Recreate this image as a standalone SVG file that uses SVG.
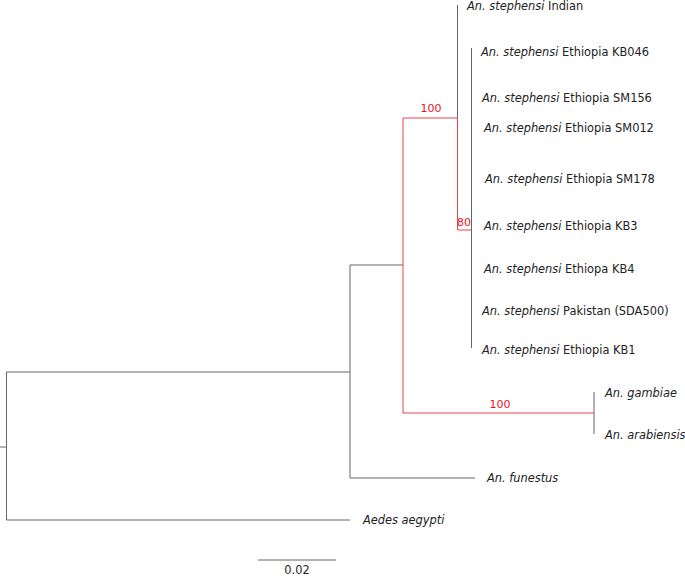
<svg xmlns="http://www.w3.org/2000/svg" width="685" height="577" viewBox="0 0 685 577">
<style>
.g{stroke:#666;stroke-width:1;fill:none}
.r{stroke:#e8454a;stroke-width:1;fill:none}
text{font-family:"DejaVu Sans",Verdana,sans-serif;font-size:11.4px;fill:#222}
.b{font-size:11px;fill:#e8151b}
</style>
<rect width="685" height="577" fill="#fff"/>
<g id="branches">
<path class="g" d="M0 447H6.5M6.5 372V520M6.5 372H350M6.5 520H350M350 265V478M350 265H403M350 478H475M457.5 5V118M471.5 48V348M594 392V434"/>
<path class="r" d="M403 118V413M403 118H457.5M457.5 118V230H471.5M403 413H594"/>
</g>
<g id="support">
<text class="b" x="431" y="112" text-anchor="middle">100</text>
<text class="b" x="464" y="226" text-anchor="middle">80</text>
<text class="b" x="500" y="408" text-anchor="middle">100</text>
</g>
<g id="labels">
<text x="467" y="10"><tspan font-style="italic">An. stephensi</tspan> Indian</text>
<text x="481" y="56"><tspan font-style="italic">An. stephensi</tspan> Ethiopia KB046</text>
<text x="482" y="102"><tspan font-style="italic">An. stephensi</tspan> Ethiopia SM156</text>
<text x="484" y="132"><tspan font-style="italic">An. stephensi</tspan> Ethiopia SM012</text>
<text x="485" y="183"><tspan font-style="italic">An. stephensi</tspan> Ethiopia SM178</text>
<text x="484" y="230"><tspan font-style="italic">An. stephensi</tspan> Ethiopia KB3</text>
<text x="484" y="273"><tspan font-style="italic">An. stephensi</tspan> Ethiopa KB4</text>
<text x="482" y="315"><tspan font-style="italic">An. stephensi</tspan> Pakistan (SDA500)</text>
<text x="482" y="354"><tspan font-style="italic">An. stephensi</tspan> Ethiopia KB1</text>
<text x="605" y="397" font-style="italic">An. gambiae</text>
<text x="605" y="439" font-style="italic">An. arabiensis</text>
<text x="487" y="482" font-style="italic">An. funestus</text>
<text x="363" y="524" font-style="italic">Aedes aegypti</text>
</g>
<g id="scale">
<path class="g" d="M258 560H336"/>
<text x="297" y="574" text-anchor="middle" font-size="12.5">0.02</text>
</g>
</svg>
